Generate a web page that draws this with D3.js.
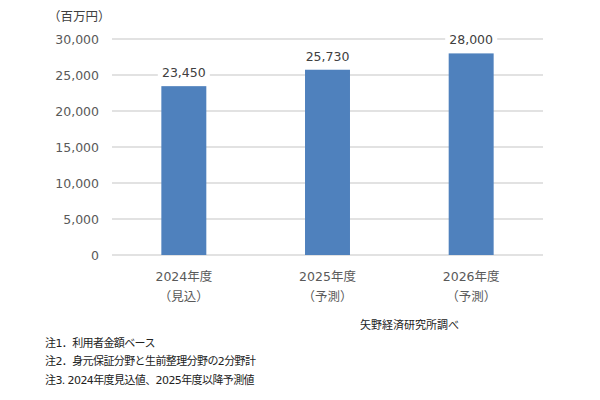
<!DOCTYPE html>
<html><head><meta charset="utf-8">
<script src="https://cdn.jsdelivr.net/npm/d3@7"></script>
<style>
body{margin:0;background:#fff;}
text{font-family:"DejaVu Sans","Noto Sans CJK JP",sans-serif;}
</style></head>
<body><svg id="c" width="600" height="400"></svg>
<script>
const categories = ["2024年度", "2025年度", "2026年度"];
const subLabels = ["（見込）", "（予測）", "（予測）"];
const values = [23450, 25730, 28000];
const yTicks = [0, 5000, 10000, 15000, 20000, 25000, 30000];
const unitLabel = "（百万円）";
const source = "矢野経済研究所調べ";
const notes = ["注1．利用者金額ベース", "注2．身元保証分野と生前整理分野の2分野計", "注3. 2024年度見込値、2025年度以降予測値"];

const svg = d3.select("#c");
const x = d3.scaleBand().domain(categories).range([112, 543]).paddingInner(0.687).paddingOuter(0.3435);
const y = d3.scaleLinear().domain([0, 30000]).range([255, 39]);

// gridlines
svg.append("g").selectAll("line").data(yTicks).join("line")
  .attr("x1", 112).attr("x2", 543)
  .attr("y1", d => y(d)).attr("y2", d => y(d))
  .attr("stroke", "#d9d9d9").attr("stroke-width", 1.3);

// y axis labels
const yAxis = d3.axisLeft(y).tickValues(yTicks).tickFormat(d3.format(",")).tickSize(0).tickPadding(0);
const ga = svg.append("g").attr("transform", "translate(99,0)").call(yAxis);
ga.select(".domain").remove();
ga.selectAll("text").attr("font-size", 12.5).attr("fill", "#595959")
  .style("font-family", '"DejaVu Sans","Noto Sans CJK JP",sans-serif');

// bars
svg.append("g").selectAll("rect").data(values).join("rect")
  .attr("x", (d, i) => x(categories[i])).attr("width", x.bandwidth())
  .attr("y", d => y(d)).attr("height", d => y(0) - y(d))
  .attr("fill", "#4f81bd");

// value labels with white background
const lg = svg.append("g").selectAll("g").data(values).join("g")
  .attr("transform", (d, i) => `translate(${x(categories[i]) + x.bandwidth() / 2},${y(d) - 9})`);
lg.append("rect").attr("x", -26).attr("y", -13).attr("width", 52).attr("height", 17).attr("fill", "#fff");
lg.append("text").attr("text-anchor", "middle").attr("font-size", 12.5).attr("fill", "#404040")
  .text(d => d3.format(",")(d));

// x labels
const xl = svg.append("g").selectAll("g").data(categories).join("g")
  .attr("transform", d => `translate(${x(d) + x.bandwidth() / 2},0)`);
xl.append("text").attr("y", 281).attr("text-anchor", "middle").attr("font-size", 12.5).attr("fill", "#595959").text(d => d);
xl.append("text").attr("y", 301).attr("text-anchor", "middle").attr("font-size", 12.5).attr("fill", "#595959")
  .text((d, i) => subLabels[i]);

// unit label
svg.append("text").attr("x", 48).attr("y", 21).attr("font-size", 12.5).attr("fill", "#404040").text(unitLabel);

// source
svg.append("text").attr("x", 459).attr("y", 329).attr("text-anchor", "end").attr("font-size", 11).attr("fill", "#222").text(source);

// notes
svg.append("g").selectAll("text").data(notes).join("text")
  .attr("x", 45).attr("y", (d, i) => [347, 365, 384][i])
  .attr("font-size", 11).attr("letter-spacing", -0.6).attr("fill", "#222").text(d => d);
</script></body></html>
